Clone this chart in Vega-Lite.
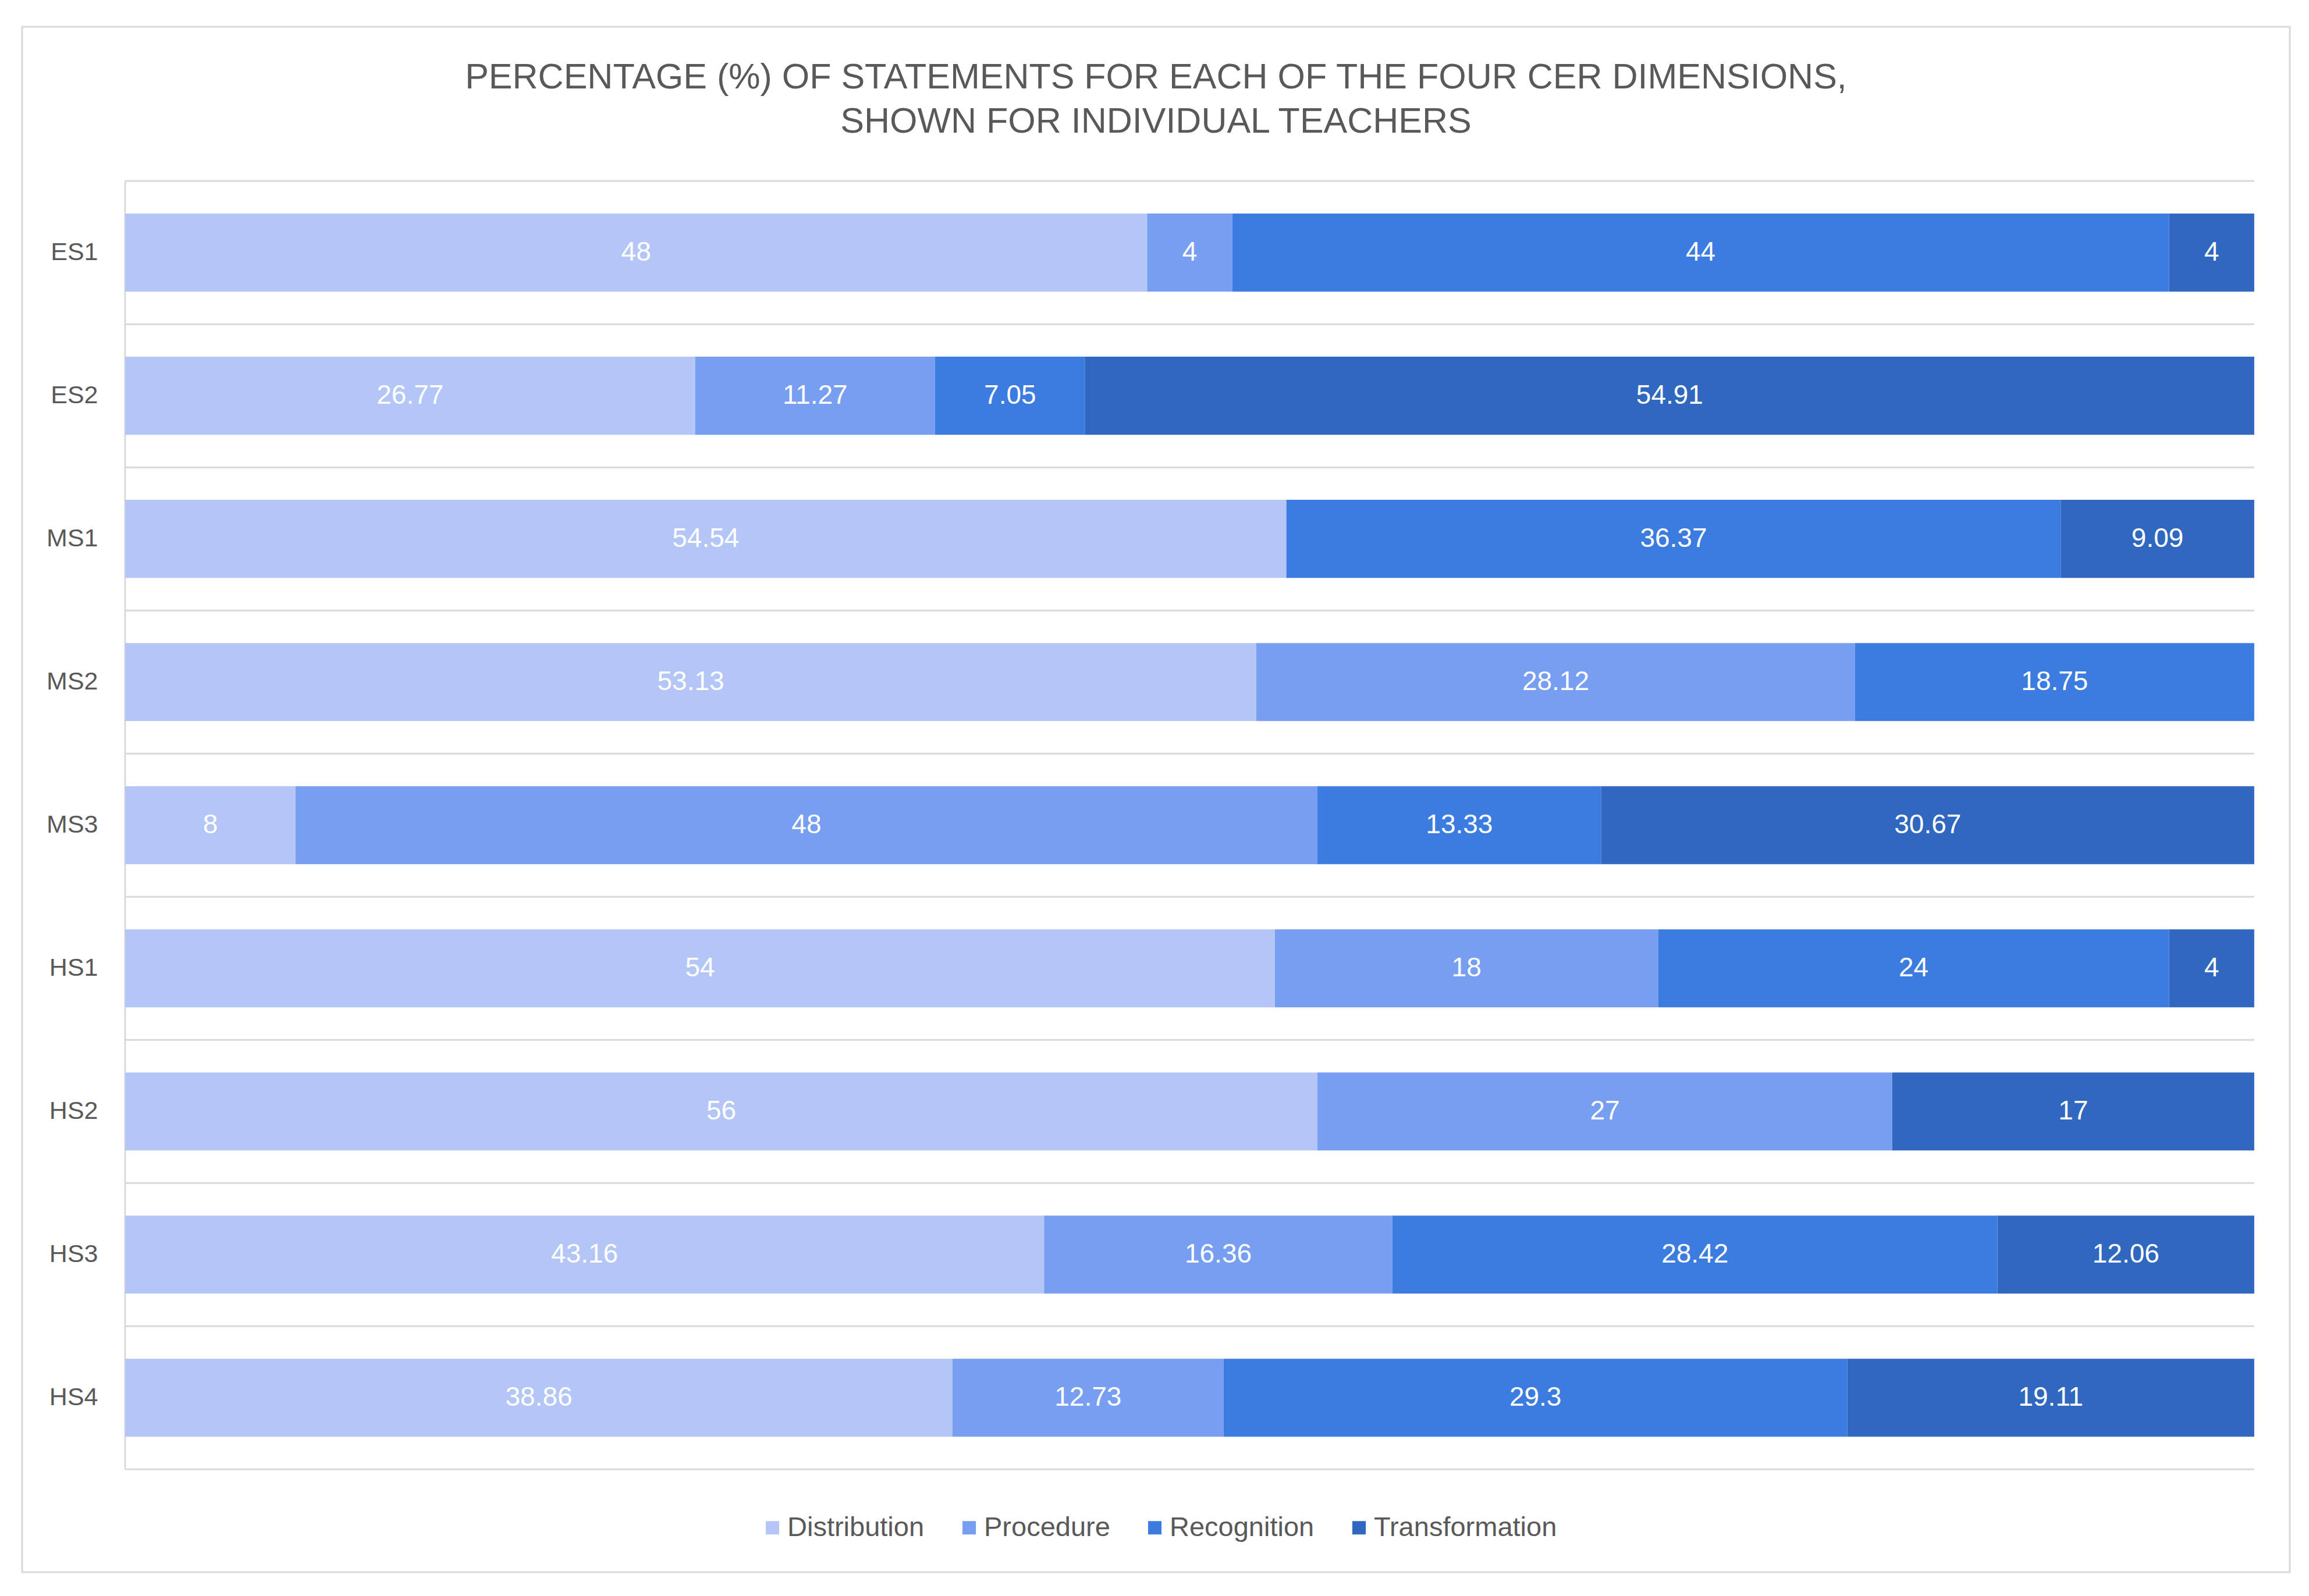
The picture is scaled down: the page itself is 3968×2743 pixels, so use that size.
{
  "$schema": "https://vega.github.io/schema/vega-lite/v6.json",
  "width": 3897,
  "height": 2656,
  "autosize": {"type": "none"},
  "padding": {"left": 38, "top": 46, "right": 33, "bottom": 41},
  "background": "white",
  "title": {
    "text": ["PERCENTAGE (%) OF STATEMENTS FOR EACH OF THE FOUR CER DIMENSIONS,", "SHOWN FOR INDIVIDUAL TEACHERS"],
    "anchor": "middle",
    "frame": "group",
    "baseline": "top",
    "offset": -195,
    "lineHeight": 76,
    "font": "Liberation Sans",
    "fontSize": 61,
    "fontWeight": "normal",
    "color": "#595959"
  },
  "data": {
    "values": [
      {"teacher": "ES1", "dimension": "Distribution", "value": 48},
      {"teacher": "ES1", "dimension": "Procedure", "value": 4},
      {"teacher": "ES1", "dimension": "Recognition", "value": 44},
      {"teacher": "ES1", "dimension": "Transformation", "value": 4},
      {"teacher": "ES2", "dimension": "Distribution", "value": 26.77},
      {"teacher": "ES2", "dimension": "Procedure", "value": 11.27},
      {"teacher": "ES2", "dimension": "Recognition", "value": 7.05},
      {"teacher": "ES2", "dimension": "Transformation", "value": 54.91},
      {"teacher": "MS1", "dimension": "Distribution", "value": 54.54},
      {"teacher": "MS1", "dimension": "Recognition", "value": 36.37},
      {"teacher": "MS1", "dimension": "Transformation", "value": 9.09},
      {"teacher": "MS2", "dimension": "Distribution", "value": 53.13},
      {"teacher": "MS2", "dimension": "Procedure", "value": 28.12},
      {"teacher": "MS2", "dimension": "Recognition", "value": 18.75},
      {"teacher": "MS3", "dimension": "Distribution", "value": 8},
      {"teacher": "MS3", "dimension": "Procedure", "value": 48},
      {"teacher": "MS3", "dimension": "Recognition", "value": 13.33},
      {"teacher": "MS3", "dimension": "Transformation", "value": 30.67},
      {"teacher": "HS1", "dimension": "Distribution", "value": 54},
      {"teacher": "HS1", "dimension": "Procedure", "value": 18},
      {"teacher": "HS1", "dimension": "Recognition", "value": 24},
      {"teacher": "HS1", "dimension": "Transformation", "value": 4},
      {"teacher": "HS2", "dimension": "Distribution", "value": 56},
      {"teacher": "HS2", "dimension": "Procedure", "value": 27},
      {"teacher": "HS2", "dimension": "Transformation", "value": 17},
      {"teacher": "HS3", "dimension": "Distribution", "value": 43.16},
      {"teacher": "HS3", "dimension": "Procedure", "value": 16.36},
      {"teacher": "HS3", "dimension": "Recognition", "value": 28.42},
      {"teacher": "HS3", "dimension": "Transformation", "value": 12.06},
      {"teacher": "HS4", "dimension": "Distribution", "value": 38.86},
      {"teacher": "HS4", "dimension": "Procedure", "value": 12.73},
      {"teacher": "HS4", "dimension": "Recognition", "value": 29.3},
      {"teacher": "HS4", "dimension": "Transformation", "value": 19.11}
    ]
  },
  "layer": [
    {
      "transform": [{"filter": "datum.dimension === 'Distribution'"}],
      "mark": {"type": "rule", "color": "#d9d9d9", "strokeWidth": 3},
      "encoding": {
        "y": {"field": "teacher", "type": "nominal", "bandPosition": 0, "title": null,
              "scale": {"domain": ["ES1", "ES2", "MS1", "MS2", "MS3", "HS1", "HS2", "HS3", "HS4"], "paddingInner": 0, "paddingOuter": 0.898, "align": 0.6}},
        "x": {"datum": 0, "type": "quantitative", "scale": {"domain": [-4.84, 101.67], "nice": false, "zero": false}, "axis": null},
        "x2": {"datum": 100}
      }
    },
    {
      "transform": [{"filter": "datum.dimension === 'Distribution' && datum.teacher === 'HS4'"}],
      "mark": {"type": "rule", "color": "#d9d9d9", "strokeWidth": 3},
      "encoding": {
        "y": {"field": "teacher", "type": "nominal", "bandPosition": 1, "title": null},
        "x": {"datum": 0, "type": "quantitative", "axis": null},
        "x2": {"datum": 100}
      }
    },
    {
      "transform": [{"filter": "datum.dimension === 'Distribution'"}],
      "mark": {"type": "bar", "color": "#d9d9d9", "height": {"band": 1}},
      "encoding": {
        "y": {"field": "teacher", "type": "nominal", "title": null},
        "x": {"datum": -0.045, "type": "quantitative", "axis": null},
        "x2": {"datum": 0.035}
      }
    },
    {
      "mark": {"type": "bar", "height": {"band": 0.545}},
      "encoding": {
        "y": {"field": "teacher", "type": "nominal", "title": null},
        "x": {"field": "value", "type": "quantitative", "stack": "zero", "axis": null},
        "color": {
          "field": "dimension",
          "type": "nominal",
          "scale": {"domain": ["Distribution", "Procedure", "Recognition", "Transformation"], "range": ["#b4c6f6", "#789ef2", "#3c7ce0", "#3067bf"]},
          "legend": {"title": null, "orient": "none", "legendX": 1266, "legendY": 2556, "direction": "horizontal"}
        }
      }
    },
    {
      "mark": {"type": "text", "color": "white", "font": "Liberation Sans", "fontSize": 46, "baseline": "middle", "align": "center"},
      "encoding": {
        "y": {"field": "teacher", "type": "nominal", "title": null},
        "x": {"field": "value", "type": "quantitative", "stack": "zero", "bandPosition": 0.5, "axis": null},
        "detail": {"field": "dimension", "type": "nominal"},
        "order": {"field": "dimension", "type": "ordinal", "sort": "ascending"},
        "text": {"field": "value", "type": "nominal"}
      }
    }
  ],
  "config": {
    "view": {"stroke": "#d9d9d9", "strokeWidth": 3, "fill": "white"},
    "axisY": {
      "domain": false,
      "ticks": false,
      "tickSize": 0,
      "grid": false,
      "labelFont": "Liberation Sans",
      "labelFontSize": 43,
      "labelColor": "#595959",
      "labelAlign": "right",
      "labelPadding": -130
    },
    "legend": {
      "symbolType": "square",
      "symbolSize": 529,
      "symbolStrokeWidth": 0,
      "labelFont": "Liberation Sans",
      "labelFontSize": 47,
      "labelColor": "#595959",
      "labelOffset": 2,
      "columnPadding": 53,
      "labelLimit": 600
    }
  }
}
